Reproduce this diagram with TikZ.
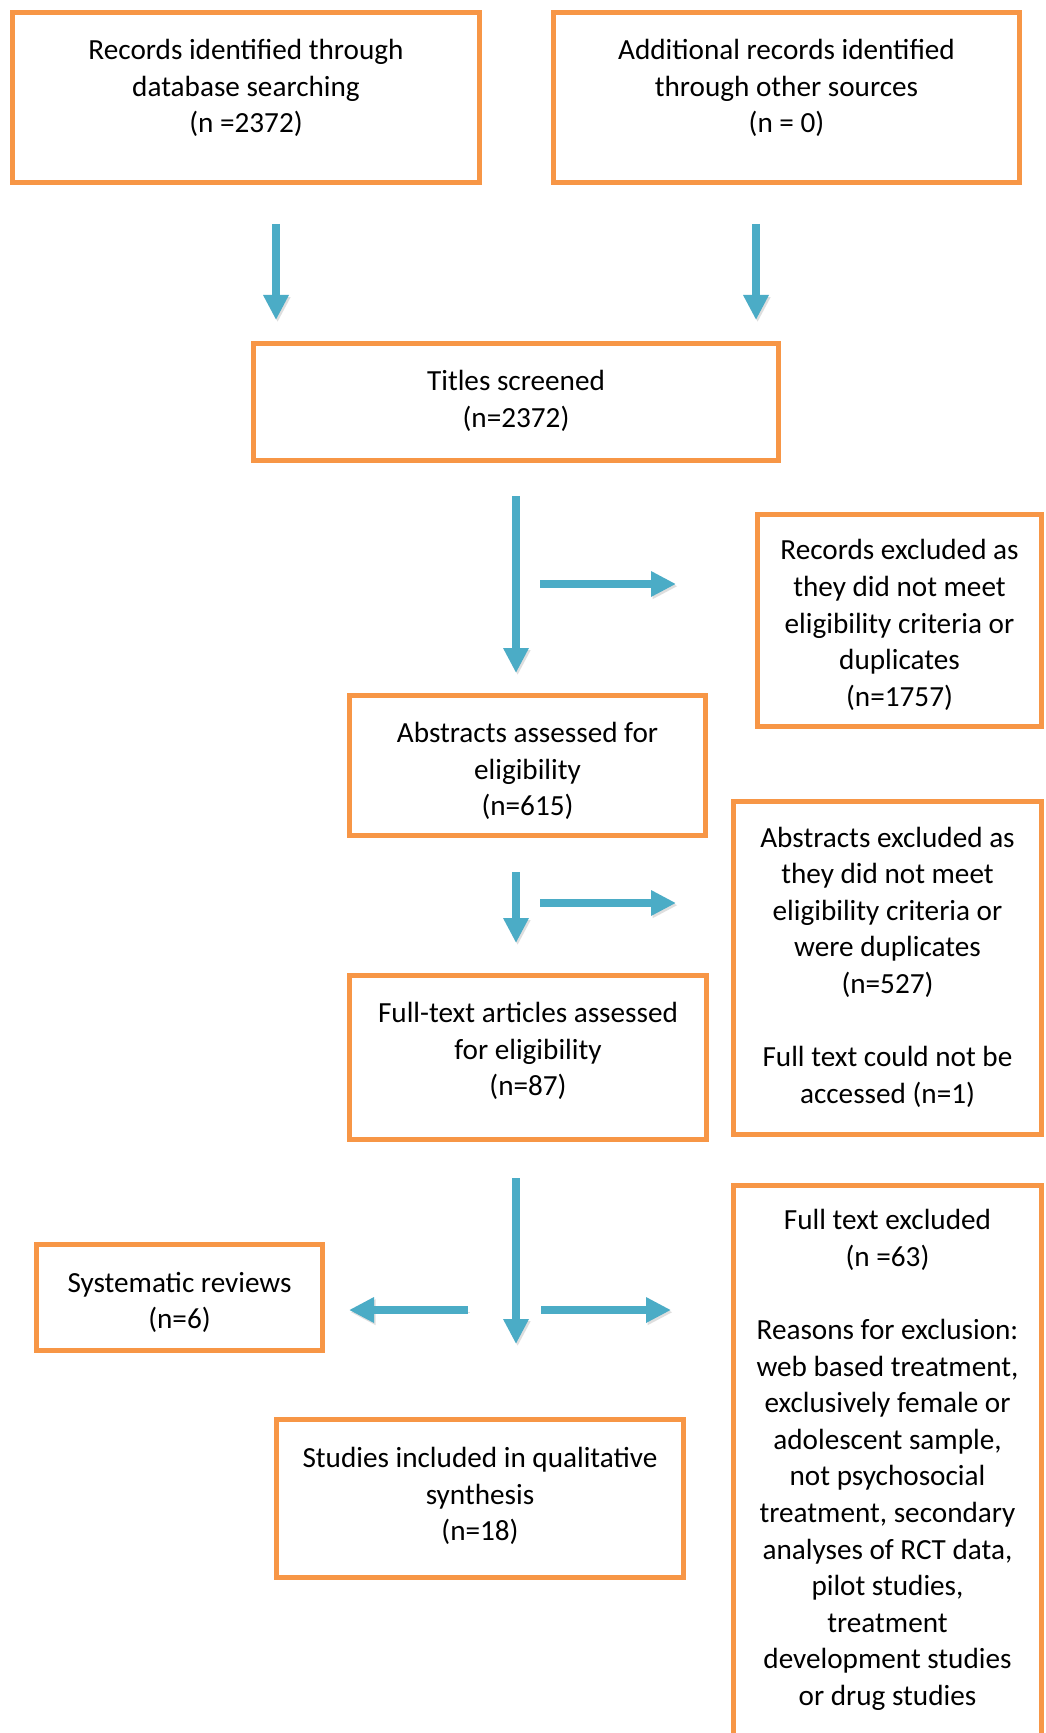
\documentclass[tikz,border=0pt]{standalone}
\usepackage{fontspec}
\setmainfont{Carlito}
\usetikzlibrary{arrows.meta}
\definecolor{frameorange}{HTML}{F79646}
\definecolor{flowblue}{HTML}{4BACC6}
\begin{document}
\begin{tikzpicture}[x=0.5pt, y=-0.5pt,
  frame/.style={draw=frameorange, line width=2.5pt, inner sep=0pt},
  txt/.style={align=center, inner sep=0pt, font=\fontsize{14.6pt}{18.3pt}\selectfont},
  flow/.style={draw=flowblue, line width=4pt,
    -{Triangle[width=12pt,length=12.5pt]},
    preaction={draw=black!70, opacity=0.18,
      transform canvas={shift={(0.8pt,-1.1pt)}}}},
]
\useasboundingbox (0,0) rectangle (1045,1733);
\fill[white] (0,0) rectangle (1045,1733);
\clip (0,0) rectangle (1045,1733);

% --- identification ---
\node[frame, minimum width=233.5pt, minimum height=85pt] (db) at (246,97.5) {};
\node[txt] (db-t) at (246,88) {Records identified through\\database searching\\(n =2372)};

\node[frame, minimum width=233pt, minimum height=85pt] (other) at (786.5,97.5) {};
\node[txt] (other-t) at (786.5,88) {Additional records identified\\through other sources\\(n = 0)};

% --- screening ---
\node[frame, minimum width=262.5pt, minimum height=58.5pt] (titles) at (516,402) {};
\node[txt] (titles-t) at (516,401) {Titles screened\\(n=2372)};

\node[frame, minimum width=142pt, minimum height=106pt] (recex) at (899.5,620.5) {};
\node[txt] (recex-t) at (899.5,625) {Records excluded as\\they did not meet\\eligibility criteria or\\duplicates\\(n=1757)};

\node[frame, minimum width=178pt, minimum height=70pt] (abs) at (527.5,765.5) {};
\node[txt] (abs-t) at (527.5,771) {Abstracts assessed for\\eligibility\\(n=615)};

\node[frame, minimum width=154pt, minimum height=166.5pt] (absex) at (887.5,968) {};
\node[txt] (absex-t) at (887.5,967) {Abstracts excluded as\\they did not meet\\eligibility criteria or\\were duplicates\\(n=527)\\[18.3pt]Full text could not be\\accessed (n=1)};

% --- eligibility ---
\node[frame, minimum width=178.5pt, minimum height=82pt] (full) at (528,1057.5) {};
\node[txt] (full-t) at (528,1051) {Full-text articles assessed\\for eligibility\\(n=87)};

\node[frame, minimum width=154pt, minimum height=286pt] (ftex) at (887.5,1471.5) {};
\node[txt] (ftex-t) at (887.5,1460) {Full text excluded\\(n =63)\\[18.3pt]Reasons for exclusion:\\web based treatment,\\exclusively female or\\adolescent sample,\\not psychosocial\\treatment, secondary\\analyses of RCT data,\\pilot studies,\\treatment\\development studies\\or drug studies};

% --- included ---
\node[frame, minimum width=143pt, minimum height=53pt] (sys) at (179.5,1297.5) {};
\node[txt] (sys-t) at (179.5,1302.5) {Systematic reviews\\(n=6)};

\node[frame, minimum width=203.5pt, minimum height=79pt] (incl) at (480,1498.5) {};
\node[txt] (incl-t) at (480,1496) {Studies included in qualitative\\synthesis\\(n=18)};

% --- arrow end points ---
\coordinate (a1s) at (276,224);  \coordinate (a1e) at (276,320);
\coordinate (a2s) at (756,224);  \coordinate (a2e) at (756,320);
\coordinate (a3s) at (516,496);  \coordinate (a3e) at (516,673);
\coordinate (a4s) at (540,584);  \coordinate (a4e) at (676,584);
\coordinate (a5s) at (516,872);  \coordinate (a5e) at (516,943);
\coordinate (a6s) at (540,903);  \coordinate (a6e) at (676,903);
\coordinate (a7s) at (516,1178); \coordinate (a7e) at (516,1344);
\coordinate (a8s) at (468,1310); \coordinate (a8e) at (349,1310);
\coordinate (a9s) at (541,1310); \coordinate (a9e) at (671,1310);

\draw[flow] (a1s) -- (a1e);
\draw[flow] (a2s) -- (a2e);
\draw[flow] (a3s) -- (a3e);
\draw[flow] (a4s) -- (a4e);
\draw[flow] (a5s) -- (a5e);
\draw[flow] (a6s) -- (a6e);
\draw[flow] (a7s) -- (a7e);
\draw[flow] (a8s) -- (a8e);
\draw[flow] (a9s) -- (a9e);
\end{tikzpicture}
\end{document}
